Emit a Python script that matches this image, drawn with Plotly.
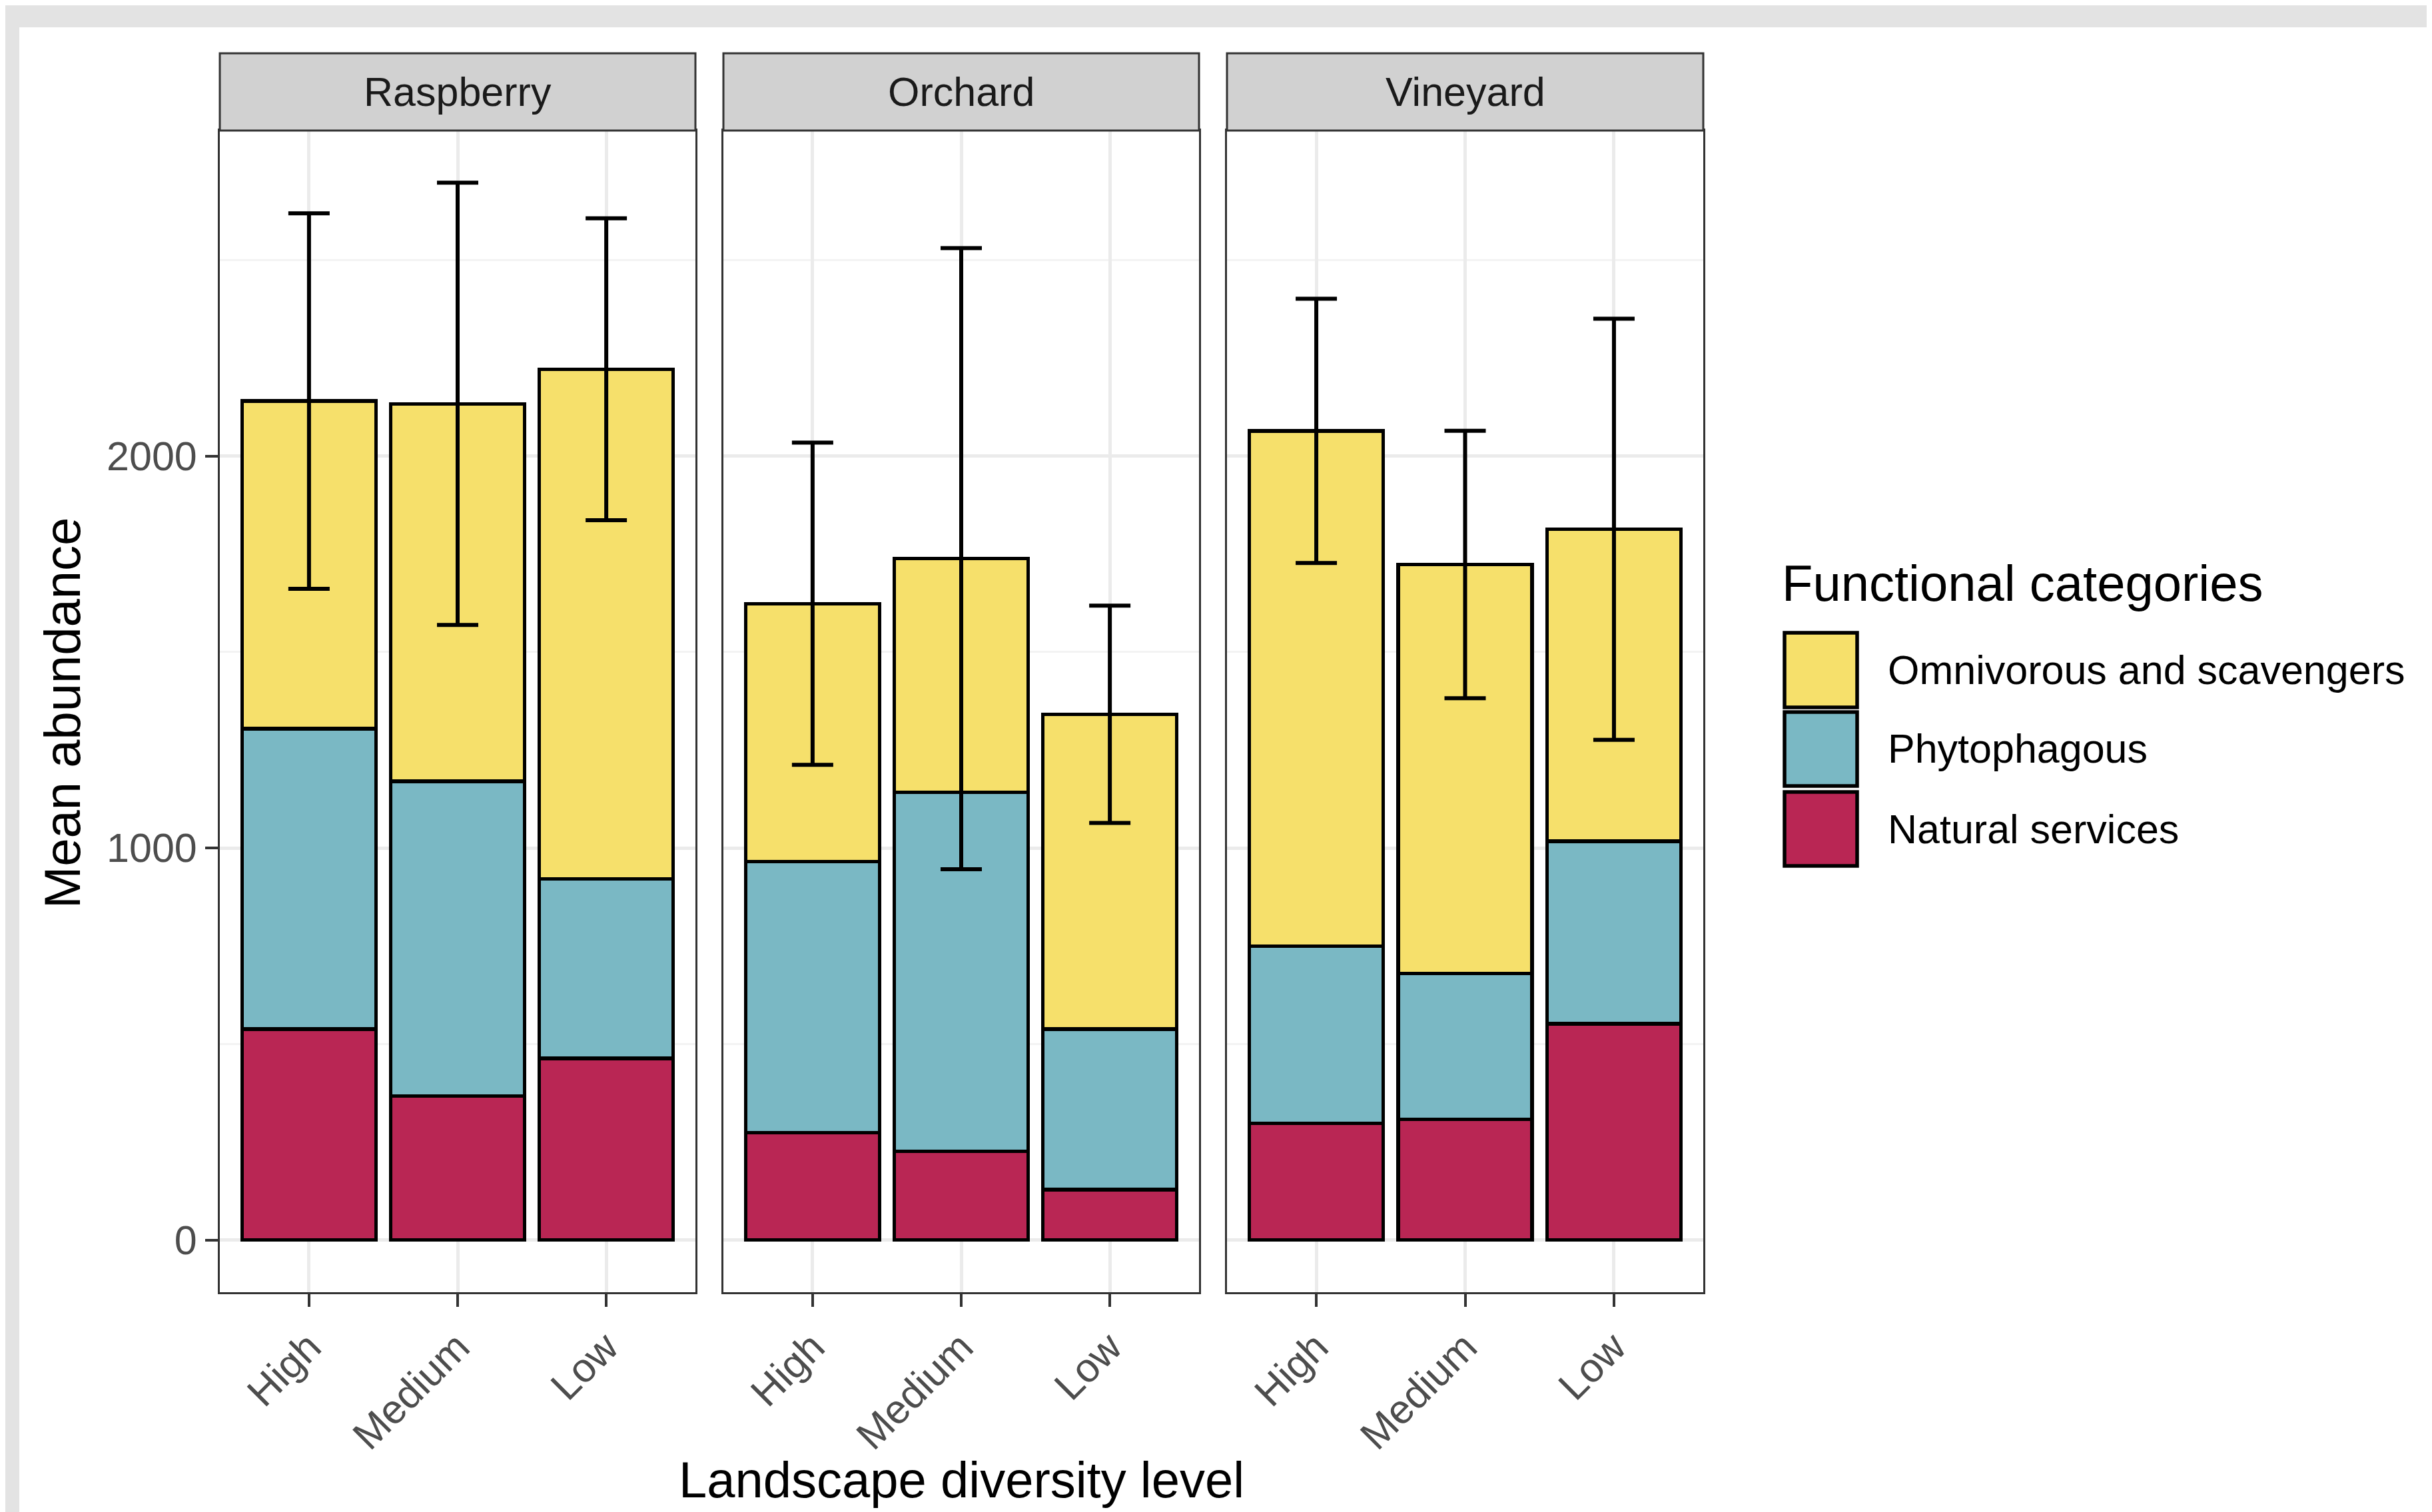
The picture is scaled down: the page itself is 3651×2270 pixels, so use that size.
import plotly.graph_objects as go
import numpy as np

# ---------------- data ----------------
landscapes = ["Raspberry", "Orchard", "Vineyard"]
levels = ["High", "Medium", "Low"]
categories = ["Omnivorous and scavengers", "Phytophagous", "Natural services"]

natural_services = {
    "Raspberry": [538, 367, 463],
    "Orchard": [274, 226, 129],
    "Vineyard": [298, 308, 552],
}
phytophagous = {
    "Raspberry": [766, 803, 458],
    "Orchard": [691, 916, 409],
    "Vineyard": [452, 372, 465],
}
omnivorous = {
    "Raspberry": [836, 963, 1300],
    "Orchard": [658, 596, 803],
    "Vineyard": [1314, 1043, 796],
}
error_sd = {
    "Raspberry": [479, 564, 385],
    "Orchard": [411, 792, 277],
    "Vineyard": [337, 341, 537],
}
y_ticks = [0, 1000, 2000]

# ---------------- style ----------------
W, H = 3651, 2270
OFF = 8  # page body margin compensation
col = {"Omnivorous and scavengers": "#F6E06B",
       "Phytophagous": "#7AB8C4",
       "Natural services": "#B92654"}
FONT = "Liberation Sans, Arial, Helvetica, sans-serif"

panel_px = [(330, 1044), (1086, 1800), (1842, 2557)]
panel_top, panel_bot = 196, 1940
strip_top = 80

def px(x):
    return (x - OFF) / W

def py(y):
    return 1 - (y - OFF) / H

fig = go.Figure()

series = [("Natural services", natural_services),
          ("Phytophagous", phytophagous),
          ("Omnivorous and scavengers", omnivorous)]

for i, land in enumerate(landscapes):
    suffix = "" if i == 0 else str(i + 1)
    xa, ya = "x" + suffix, "y" + suffix
    for name, d in series:
        fig.add_trace(go.Bar(
            x=levels, y=d[land], name=name, xaxis=xa, yaxis=ya,
            width=0.9, showlegend=False,
            marker=dict(color=col[name], line=dict(color="black", width=5.5)),
        ))
    totals = (np.array(natural_services[land]) + np.array(phytophagous[land])
              + np.array(omnivorous[land]))
    fig.add_trace(go.Scatter(
        x=levels, y=totals, xaxis=xa, yaxis=ya, mode="markers",
        marker=dict(size=1, color="rgba(0,0,0,0)"), showlegend=False,
        error_y=dict(type="data", array=error_sd[land], visible=True,
                     color="black", thickness=6, width=31),
    ))

layout = dict(
    width=W, height=H,
    margin=dict(l=0, r=0, t=0, b=0),
    paper_bgcolor="#E3E3E3",
    plot_bgcolor="white",
    barmode="stack",
    showlegend=False,
    font=dict(family=FONT),
)

for i, land in enumerate(landscapes):
    suffix = "" if i == 0 else str(i + 1)
    x0, x1 = panel_px[i]
    layout["xaxis" + suffix] = dict(
        domain=[px(x0), px(x1)], anchor="y" + suffix,
        type="category", categoryorder="array", categoryarray=levels,
        range=[-0.6, 2.6],
        showgrid=True, gridcolor="#EBEBEB", gridwidth=5,
        showline=True, linecolor="#333333", linewidth=3, mirror=True,
        ticks="outside", ticklen=19, tickwidth=4, tickcolor="#333333",
        tickangle=-45, tickfont=dict(size=61, color="#4D4D4D", family=FONT),
        zeroline=False,
    )
    layout["yaxis" + suffix] = dict(
        domain=[py(panel_bot), py(panel_top)], anchor="x" + suffix,
        range=[-133, 2830],
        tickvals=y_ticks, ticktext=[str(v) for v in y_ticks],
        showticklabels=(i == 0),
        ticks="outside" if i == 0 else "", ticklen=19, tickwidth=4,
        tickcolor="#333333",
        tickfont=dict(size=61, color="#4D4D4D", family=FONT),
        showgrid=True, gridcolor="#EBEBEB", gridwidth=5,
        minor=dict(showgrid=True, dtick=500, tick0=0, gridcolor="#F3F3F3",
                   gridwidth=3, ticks=""),
        showline=True, linecolor="#333333", linewidth=3, mirror=True,
        zeroline=False,
    )

fig.update_layout(**layout)

shapes = []
annotations = []

# white page over textured grey background
shapes.append(dict(type="rect", xref="paper", yref="paper", layer="below",
                   x0=px(29), x1=1.01, y0=-0.01, y1=py(41),
                   fillcolor="white", line=dict(width=0)))

# facet strips
for i, land in enumerate(landscapes):
    x0, x1 = panel_px[i]
    shapes.append(dict(type="rect", xref="paper", yref="paper",
                       x0=px(x0), x1=px(x1), y0=py(panel_top), y1=py(strip_top),
                       fillcolor="#D1D1D1", line=dict(color="#333333", width=3)))
    annotations.append(dict(xref="paper", yref="paper", x=px((x0 + x1) / 2),
                            y=py((strip_top + panel_top) / 2), text=land,
                            showarrow=False, xanchor="center", yanchor="middle",
                            font=dict(size=61, color="#1A1A1A", family=FONT)))

# axis titles
annotations.append(dict(xref="paper", yref="paper", x=px(1443), y=py(2221),
                        text="Landscape diversity level", showarrow=False,
                        xanchor="center", yanchor="middle",
                        font=dict(size=76, color="black", family=FONT)))
annotations.append(dict(xref="paper", yref="paper", x=px(93), y=py(1071),
                        text="Mean abundance", showarrow=False, textangle=-90,
                        xanchor="center", yanchor="middle",
                        font=dict(size=76, color="black", family=FONT)))

# legend (drawn manually to match large ggplot keys)
annotations.append(dict(xref="paper", yref="paper", x=px(2673), y=py(875),
                        text="Functional categories", showarrow=False,
                        xanchor="left", yanchor="middle",
                        font=dict(size=76, color="black", family=FONT)))
key_rows = [(950, 1062), (1069, 1180), (1189, 1300)]
for (k0, k1), name in zip(key_rows, categories):
    shapes.append(dict(type="rect", xref="paper", yref="paper",
                       x0=px(2679), x1=px(2788), y0=py(k1), y1=py(k0),
                       fillcolor=col[name], line=dict(color="black", width=5.5)))
    annotations.append(dict(xref="paper", yref="paper", x=px(2832),
                            y=py((k0 + k1) / 2), text=name, showarrow=False,
                            xanchor="left", yanchor="middle",
                            font=dict(size=61, color="black", family=FONT)))

fig.update_layout(shapes=shapes, annotations=annotations)
fig.write_html("out.html")
